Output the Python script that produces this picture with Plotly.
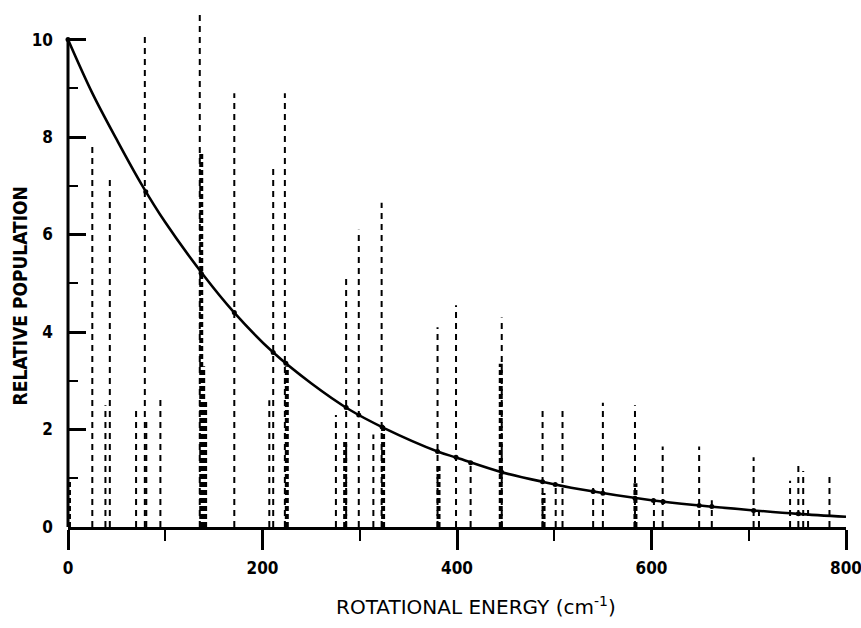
import plotly.graph_objects as go

# Rotational levels drawn as thin dashed sticks: energy (cm^-1) and relative population
thin_energy = [25, 38.5, 43, 70, 79, 80.5, 95, 135.5, 171, 207, 211, 223,
               275.5, 286, 299, 314, 322.5, 380, 399, 414, 446, 488, 501.5,
               508.5, 540, 550, 583, 602.5, 611.5, 649, 662, 705, 710.5,
               742.5, 751, 756, 761, 783]
thin_height = [7.9, 2.5, 7.2, 2.4, 10.1, 2.2, 2.7, 10.55, 8.9, 2.6, 7.4, 8.9,
               2.3, 5.15, 6.1, 1.9, 6.65, 4.1, 4.55, 1.35, 4.3, 2.45, 0.9,
               2.45, 0.9, 2.55, 2.5, 0.65, 1.65, 1.65, 0.55, 1.43, 0.4,
               0.95, 1.35, 1.15, 0.35, 1.1]

# Degenerate / overlapping levels drawn as heavy dashed sticks
thick_energy = [1, 137, 139, 141, 225, 285, 324, 381, 445, 489, 583.5]
thick_height = [1.0, 7.7, 3.3, 2.6, 3.3, 1.8, 2.1, 1.3, 3.35, 0.7, 0.9]

# Boltzmann population curve
curve_energy = [0, 25, 50, 75, 100, 140, 170, 210, 250, 290, 325, 380, 400,
                445, 490, 525, 600, 650, 700, 750, 800]
curve_pop = [10.0, 8.9, 7.95, 7.05, 6.25, 5.15, 4.42, 3.6, 2.95, 2.4, 2.03,
             1.55, 1.42, 1.13, 0.92, 0.78, 0.55, 0.44, 0.35, 0.27, 0.21]

# Level points marked on the curve
point_energy = [0, 80, 137, 171, 211, 224, 286, 299, 323, 380, 399, 414, 446,
                488, 501, 540, 550, 583, 602, 612, 649, 662, 705, 751]
point_pop = [10.0, 6.88, 5.2, 4.4, 3.58, 3.36, 2.45, 2.30, 2.05, 1.55, 1.43,
             1.32, 1.125, 0.93, 0.87, 0.73, 0.69, 0.59, 0.545, 0.52, 0.44,
             0.42, 0.34, 0.27]

x_ticks = [0, 200, 400, 600, 800]
x_minor = [100, 300, 500, 700]
y_ticks = [0, 2, 4, 6, 8, 10]
y_minor = [1, 3, 5, 7, 9]
x_range = [0, 800]
y_range = [0, 10.75]
axis_top = 10


def sticks(energies, heights):
    xs, ys = [], []
    for e, h in zip(energies, heights):
        xs += [e, e, None]
        ys += [0, h, None]
    return xs, ys


fig = go.Figure()

tx, ty = sticks(thin_energy, thin_height)
fig.add_trace(go.Scatter(x=tx, y=ty, mode="lines", hoverinfo="skip",
                         line=dict(color="black", width=2.0, dash="6px,5px")))

kx, ky = sticks(thick_energy, thick_height)
fig.add_trace(go.Scatter(x=kx, y=ky, mode="lines", hoverinfo="skip",
                         line=dict(color="black", width=4.0, dash="5px,3px")))

fig.add_trace(go.Scatter(x=curve_energy, y=curve_pop, mode="lines",
                         line=dict(color="black", width=2.6, shape="spline",
                                   smoothing=1.0)))

fig.add_trace(go.Scatter(x=point_energy, y=point_pop, mode="markers",
                         cliponaxis=False,
                         marker=dict(color="black", size=5)))

tick_font = dict(family="DejaVu Sans Condensed, DejaVu Sans", size=17,
                 weight="bold", color="black")

fig.update_layout(
    width=861, height=628,
    margin=dict(l=68, r=15, t=3, b=101),
    paper_bgcolor="white", plot_bgcolor="white",
    showlegend=False,
    xaxis=dict(
        range=x_range, showgrid=False, zeroline=False, automargin=False,
        showline=True, linewidth=2.5, linecolor="black",
        ticks="outside", ticklen=20, tickwidth=2.5, tickcolor="black",
        tickvals=x_ticks, ticktext=[str(v) for v in x_ticks],
        minor=dict(tickvals=x_minor, ticks="outside", ticklen=11,
                   tickwidth=2, tickcolor="black"),
        tickfont=tick_font, ticklabelstandoff=4, ticklabeloverflow="allow",
    ),
    yaxis=dict(
        range=y_range, showgrid=False, zeroline=False, showline=False,
        automargin=False,
        ticks="inside", ticklen=18, tickwidth=2.5, tickcolor="black",
        tickvals=y_ticks, ticktext=[str(v) for v in y_ticks],
        minor=dict(tickvals=y_minor, ticks="inside", ticklen=10,
                   tickwidth=2, tickcolor="black"),
        tickfont=tick_font, ticklabelstandoff=14,
    ),
    shapes=[dict(type="line", xref="paper", yref="paper",
                 x0=0, x1=0, y0=0, y1=axis_top / y_range[1],
                 line=dict(color="black", width=3))],
    annotations=[
        dict(text="RELATIVE POPULATION", xref="paper", yref="y",
             x=-0.0617, y=4.75, xanchor="center", yanchor="middle",
             textangle=-90, showarrow=False,
             font=dict(family="DejaVu Sans Condensed, DejaVu Sans", size=19,
                       weight="bold", color="black")),
        dict(text="ROTATIONAL ENERGY (cm<sup>-1</sup>)", xref="x",
             yref="paper", x=420, y=-0.15, xanchor="center",
             yanchor="middle", showarrow=False,
             font=dict(family="DejaVu Sans", size=20, color="black")),
    ],
)

fig.write_html("out.html")
